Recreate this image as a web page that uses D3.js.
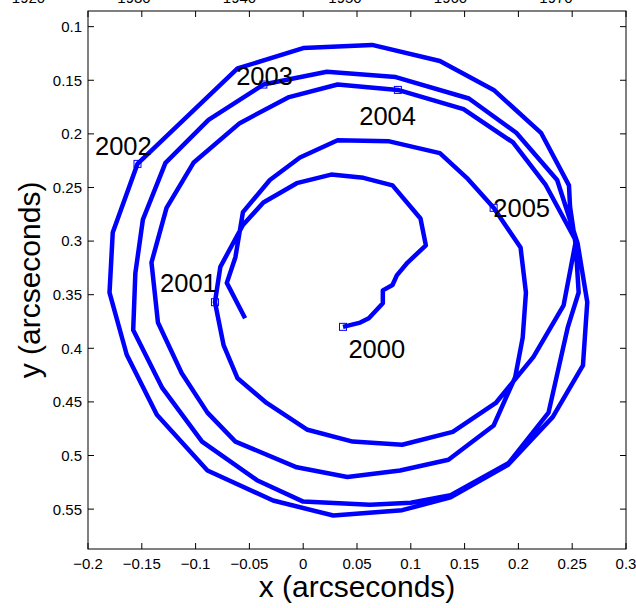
<!DOCTYPE html>
<html><head><meta charset="utf-8">
<script src="https://cdn.jsdelivr.net/npm/d3@7/dist/d3.min.js"></script>
<style>
body{margin:0;background:#fff;}
svg{display:block;font-family:"Liberation Sans",Arial,Helvetica,sans-serif;}
</style>
</head><body>
<svg id="chart" width="636" height="608"></svg>
<script>
// ---- data (arcseconds) ----
const pathX = [0.037,0.053,0.061,0.074,0.074,0.083,0.087,0.097,0.114,0.109,
  0.083,0.056,0.026,-0.006,-0.037,-0.056,-0.077,-0.082,-0.074,-0.061,
  -0.034,0.004,0.046,0.092,0.139,0.179,0.214,0.242,0.253,0.248,
  0.247,0.221,0.177,0.127,0.064,0.000,-0.061,-0.154,-0.177,-0.180,
  -0.164,-0.136,-0.089,-0.028,0.028,0.092,0.137,0.190,0.232,0.260,
  0.264,0.255,0.236,0.198,0.154,0.086,0.022,-0.037,-0.088,-0.128,
  -0.149,-0.156,-0.158,-0.131,-0.094,-0.043,0.000,0.062,0.100,0.137,
  0.191,0.228,0.246,0.256,0.253,0.225,0.195,0.149,0.088,0.032,
  -0.014,-0.059,-0.102,-0.127,-0.141,-0.135,-0.113,-0.089,-0.063,-0.006,
  0.041,0.090,0.135,0.177,0.197,0.204,0.207,0.202,0.177,0.152,
  0.127,0.080,0.032,-0.003,-0.031,-0.056,-0.063,-0.071,-0.054];
const pathY = [0.380,0.376,0.372,0.358,0.346,0.341,0.332,0.320,0.304,0.279,
  0.248,0.241,0.238,0.246,0.264,0.285,0.324,0.357,0.397,0.428,
  0.451,0.476,0.487,0.490,0.478,0.451,0.408,0.360,0.302,0.268,
  0.248,0.199,0.159,0.132,0.117,0.120,0.139,0.228,0.292,0.348,
  0.406,0.462,0.514,0.542,0.556,0.551,0.539,0.509,0.464,0.416,
  0.357,0.302,0.243,0.199,0.167,0.147,0.142,0.154,0.187,0.227,
  0.280,0.330,0.383,0.437,0.487,0.523,0.543,0.546,0.544,0.537,
  0.507,0.460,0.380,0.348,0.299,0.247,0.208,0.177,0.159,0.154,
  0.166,0.190,0.227,0.269,0.320,0.376,0.423,0.460,0.487,0.511,
  0.520,0.514,0.504,0.472,0.427,0.390,0.348,0.306,0.269,0.241,
  0.218,0.207,0.206,0.222,0.243,0.273,0.315,0.339,0.372];
const years = ["2000","2001","2002","2003","2004","2005"];
const yearIndex = [0,17,37,57,78,98];
const yearLabelX = [0.042,-0.133,-0.1935,-0.0623,0.0521,0.1767];
const yearLabelY = [0.4091,0.3475,0.2197,0.1544,0.1917,0.2775];
const xTicks = [-0.2,-0.15,-0.1,-0.05,0,0.05,0.1,0.15,0.2,0.25,0.3];
const yTicks = [0.1,0.15,0.2,0.25,0.3,0.35,0.4,0.45,0.5,0.55];
const topLabels = ["1920","1930","1940","1950","1960","1970"];
const topLabelValues = [1920,1930,1940,1950,1960,1970];

// ---- layout ----
const L = 88, R = 626, T = 11, B = 549;
const svg = d3.select("#chart");
const x = d3.scaleLinear().domain([-0.2, 0.3]).range([L, R]);
const y = d3.scaleLinear().domain([0.0854, 0.5872]).range([T, B]);
const topScale = d3.scaleLinear().domain([1930, 1970]).range([134, 556]);
const fmt = d => d < 0 ? "\u2212" + String(Math.abs(d)) : String(d);

// cut-off labels at the very top
svg.append("g").selectAll("text").data(topLabelValues).join("text")
  .attr("x", d => topScale(d)).attr("y", 3)
  .attr("text-anchor", "middle").attr("font-size", 15).attr("fill", "#000")
  .text((d, i) => topLabels[i]);

// frame
svg.append("rect").attr("x", L).attr("y", T).attr("width", R - L).attr("height", B - T)
  .attr("fill", "none").attr("stroke", "#000").attr("stroke-width", 1);

const tl = 6;
const tg = svg.append("g").attr("stroke", "#000").attr("stroke-width", 1);
xTicks.forEach(v => {
  tg.append("line").attr("x1", x(v)).attr("x2", x(v)).attr("y1", B).attr("y2", B - tl);
  tg.append("line").attr("x1", x(v)).attr("x2", x(v)).attr("y1", T).attr("y2", T + tl);
});
yTicks.forEach(v => {
  tg.append("line").attr("x1", L).attr("x2", L + tl).attr("y1", y(v)).attr("y2", y(v));
  tg.append("line").attr("x1", R).attr("x2", R - tl).attr("y1", y(v)).attr("y2", y(v));
});

svg.append("g").selectAll("text").data(xTicks).join("text")
  .attr("x", d => x(d)).attr("y", B + 20)
  .attr("text-anchor", "middle").attr("font-size", 15).text(fmt);
svg.append("g").selectAll("text").data(yTicks).join("text")
  .attr("x", L - 6).attr("y", d => y(d)).attr("dy", "0.36em")
  .attr("text-anchor", "end").attr("font-size", 15).text(fmt);

// axis titles
svg.append("text").attr("x", (L + R) / 2).attr("y", 597)
  .attr("text-anchor", "middle").attr("font-size", 30).text("x (arcseconds)");
svg.append("text").attr("transform", `translate(40,${(T + B) / 2}) rotate(-90)`)
  .attr("text-anchor", "middle").attr("font-size", 30).text("y (arcseconds)");

// path
const line = d3.line().x(i => x(pathX[i])).y(i => y(pathY[i]));
svg.append("path").datum(d3.range(pathX.length)).attr("d", line)
  .attr("fill", "none").attr("stroke", "#0000ff").attr("stroke-width", 4.5)
  .attr("stroke-linejoin", "round").attr("stroke-linecap", "butt");

// year markers
svg.append("g").selectAll("rect").data(yearIndex).join("rect")
  .attr("x", i => x(pathX[i]) - 3.5).attr("y", i => y(pathY[i]) - 3.5)
  .attr("width", 7).attr("height", 7)
  .attr("fill", "none").attr("stroke", "#0000ff").attr("stroke-width", 1);

svg.append("g").selectAll("text").data(years).join("text")
  .attr("x", (d, i) => x(yearLabelX[i])).attr("y", (d, i) => y(yearLabelY[i]))
  .attr("font-size", 25.5).attr("fill", "#000").text(d => d);
</script>
</body></html>
